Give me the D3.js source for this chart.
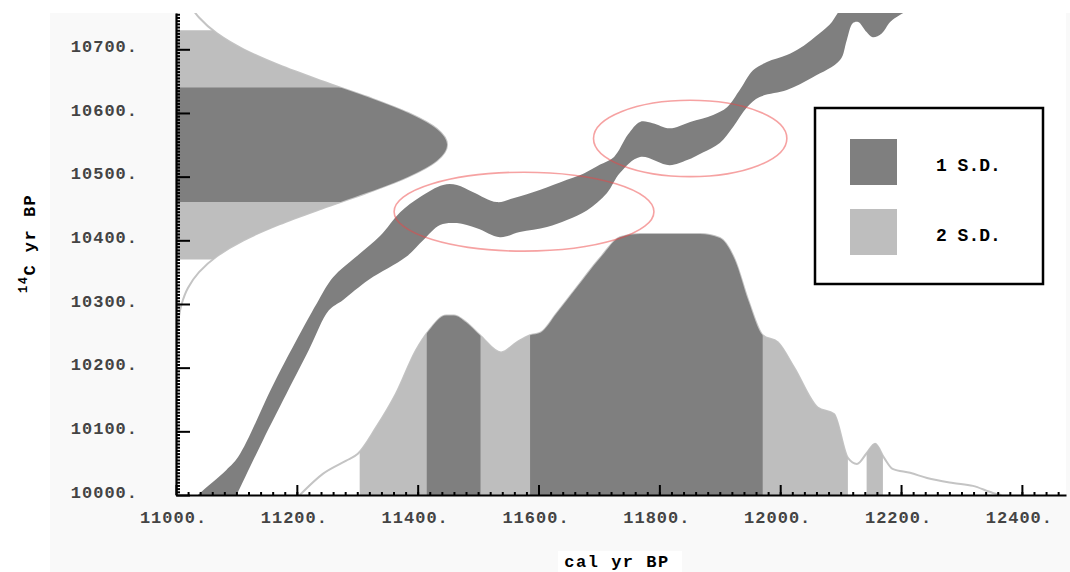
<!DOCTYPE html>
<html>
<head>
<meta charset="utf-8">
<script src="https://cdn.jsdelivr.net/npm/d3@7"></script>
<style>
body { margin: 0; background: #fff; }
text { font-family: "Liberation Mono", "Courier New", monospace; font-weight: bold; }
</style>
</head>
<body>
<div id="chart"></div>
<script>
//calibration curve band, upper edge (cal yr, 14C yr)
var upperCal = [11015, 11033, 11083, 11103, 11165, 11236, 11260, 11298, 11338, 11371, 11404, 11442, 11465, 11491, 11531, 11558, 11602, 11647, 11675, 11702, 11725, 11748, 11768, 11789, 11817, 11851, 11889, 11912, 11933, 11955, 11978, 12011, 12033, 12057, 12082, 12112];
var upperC14 = [9976, 9997, 10039, 10060, 10181, 10306, 10342, 10374, 10407, 10444, 10468, 10487, 10487, 10476, 10460, 10466, 10479, 10495, 10505, 10519, 10531, 10566, 10586, 10584, 10576, 10586, 10597, 10609, 10636, 10667, 10680, 10691, 10702, 10719, 10739, 10772];
//calibration curve band, lower edge
var lowerCal = [11089, 11099, 11144, 11220, 11253, 11276, 11319, 11381, 11409, 11437, 11465, 11498, 11536, 11569, 11614, 11647, 11680, 11713, 11735, 11768, 11817, 11846, 11872, 11900, 11922, 11945, 11966, 12011, 12054, 12099, 12110, 12120, 12129, 12143, 12153, 12168, 12182, 12198, 12231];
var lowerC14 = [9976, 9997, 10086, 10228, 10290, 10306, 10338, 10374, 10400, 10424, 10427, 10419, 10405, 10413, 10421, 10432, 10447, 10474, 10506, 10531, 10518, 10526, 10538, 10553, 10578, 10609, 10625, 10636, 10656, 10683, 10714, 10741, 10743, 10727, 10719, 10725, 10743, 10754, 10772];

//calibrated age probability (relative)
var probCal = [11205, 11243, 11281, 11301, 11331, 11364, 11397, 11419, 11447, 11460, 11480, 11503, 11538, 11564, 11586, 11604, 11630, 11660, 11702, 11735, 11768, 11818, 11867, 11900, 11925, 11947, 11971, 11996, 12023, 12062, 12089, 12112, 12127, 12143, 12157, 12172, 12186, 12215, 12243, 12286, 12319, 12352, 12366];
var probDens = [0, 0.081, 0.131, 0.158, 0.258, 0.388, 0.554, 0.631, 0.688, 0.688, 0.662, 0.612, 0.546, 0.585, 0.612, 0.623, 0.696, 0.785, 0.908, 0.988, 1, 1, 1, 0.985, 0.9, 0.746, 0.612, 0.585, 0.488, 0.335, 0.31, 0.142, 0.119, 0.16, 0.196, 0.142, 0.1, 0.085, 0.065, 0.046, 0.035, 0.008, 0];
var calOneSD = [[11415, 11504], [11586, 11971]];
var calTwoSD = [[11304, 12112], [12143, 12170]];

//radiocarbon measurement probability (relative)
var measC14 = [10225, 10250, 10275, 10300, 10325, 10350, 10375, 10400, 10425, 10450, 10475, 10500, 10525, 10550, 10575, 10600, 10625, 10650, 10675, 10700, 10725, 10750, 10775, 10800];
var measDens = [0.0015, 0.004, 0.009, 0.021, 0.044, 0.085, 0.151, 0.249, 0.381, 0.539, 0.707, 0.857, 0.962, 1, 0.962, 0.857, 0.707, 0.539, 0.381, 0.249, 0.151, 0.085, 0.044, 0.021];
var measOneSD = [10460, 10640];
var measTwoSD = [10370, 10730];

//highlighted wiggles: centre cal, centre 14C, half width (yr), half height (yr)
var wiggleCal = [11576, 11851];
var wiggleC14 = [10445, 10560];
var wiggleRx = [215, 160];
var wiggleRy = [62, 60];

var xTicks = [11000, 11200, 11400, 11600, 11800, 12000, 12200, 12400];
var yTicks = [10000, 10100, 10200, 10300, 10400, 10500, 10600, 10700];
var legendLabels = ["1 S.D.", "2 S.D."];

var width = 1070,
    height = 572;
var dark = "#7f7f7f", light = "#bebebe", outline = "#c4c4c4";

var svg = d3.select("#chart").append("svg")
    .attr("width", width)
    .attr("height", height);

//scales
var x = d3.scaleLinear().domain([11000, 12473]).range([176, 1066]);
var y = d3.scaleLinear().domain([10000, 10757]).range([495, 13]);
var pd = d3.scaleLinear().domain([0, 1]).range([y(10000), 234]);
var gd = d3.scaleLinear().domain([0, 1]).range([x(11000), 447]);

//grey frame and white plot area
svg.append("rect").attr("x", 50).attr("y", 13).attr("width", width - 50).attr("height", height - 13).attr("fill", "#f9f9f9");
svg.append("rect").attr("x", x(11000)).attr("y", 0).attr("width", x(12473) - x(11000)).attr("height", y(10000)).attr("fill", "#fff");

var defs = svg.append("defs");
defs.append("clipPath").attr("id", "plot")
  .append("rect")
    .attr("x", x(11000)).attr("y", y(10757))
    .attr("width", x(12473) - x(11000)).attr("height", y(10000) - y(10757));

function calClip(id, intervals) {
  defs.append("clipPath").attr("id", id)
    .selectAll("rect").data(intervals).enter().append("rect")
      .attr("x", function(d) { return x(d[0]); })
      .attr("width", function(d) { return x(d[1]) - x(d[0]); })
      .attr("y", 0).attr("height", height);
}
calClip("cal1", calOneSD);
calClip("cal2", calTwoSD);

function c14Clip(id, r) {
  defs.append("clipPath").attr("id", id)
    .append("rect")
      .attr("x", 0).attr("width", width)
      .attr("y", y(r[1])).attr("height", y(r[0]) - y(r[1]));
}
c14Clip("c141", measOneSD);
c14Clip("c142", measTwoSD);

var g = svg.append("g").attr("clip-path", "url(#plot)");

//calibrated distribution on the x axis
var probPts = probCal.map(function(c, i) { return [c, probDens[i]]; });
var probArea = d3.area()
    .x(function(d) { return x(d[0]); })
    .y0(y(10000))
    .y1(function(d) { return pd(d[1]); })
    .curve(d3.curveMonotoneX);
var probLine = d3.line()
    .x(function(d) { return x(d[0]); })
    .y(function(d) { return pd(d[1]); })
    .curve(d3.curveMonotoneX);

g.append("path").attr("d", probLine(probPts))
    .attr("fill", "none").attr("stroke", outline).attr("stroke-width", 2);
g.append("g").attr("clip-path", "url(#cal2)")
  .append("path").attr("d", probArea(probPts)).attr("fill", light);
g.append("g").attr("clip-path", "url(#cal1)")
  .append("path").attr("d", probArea(probPts)).attr("fill", dark);

//measured 14C distribution on the y axis
var measPts = measC14.map(function(c, i) { return [c, measDens[i]]; });
var measArea = d3.area()
    .y(function(d) { return y(d[0]); })
    .x0(x(11000))
    .x1(function(d) { return gd(d[1]); })
    .curve(d3.curveMonotoneY);
var measLine = d3.line()
    .y(function(d) { return y(d[0]); })
    .x(function(d) { return gd(d[1]); })
    .curve(d3.curveMonotoneY);

g.append("path").attr("d", measLine(measPts))
    .attr("fill", "none").attr("stroke", outline).attr("stroke-width", 2);
g.append("g").attr("clip-path", "url(#c142)")
  .append("path").attr("d", measArea(measPts)).attr("fill", light);
g.append("g").attr("clip-path", "url(#c141)")
  .append("path").attr("d", measArea(measPts)).attr("fill", dark);

//calibration curve band
var bandPts = upperCal.map(function(c, i) { return [c, upperC14[i]]; })
    .concat(lowerCal.map(function(c, i) { return [c, lowerC14[i]]; }).reverse());
var band = d3.line()
    .x(function(d) { return x(d[0]); })
    .y(function(d) { return y(d[1]); })
    .curve(d3.curveCatmullRomClosed.alpha(0.5));
g.append("path").attr("d", band(bandPts)).attr("fill", dark);

//red ellipses round the wiggles
g.selectAll(".wiggle")
    .data(wiggleCal).enter().append("ellipse")
    .attr("class", "wiggle")
    .attr("cx", function(d) { return x(d); })
    .attr("cy", function(d, i) { return y(wiggleC14[i]); })
    .attr("rx", function(d, i) { return x(d + wiggleRx[i]) - x(d); })
    .attr("ry", function(d, i) { return y(wiggleC14[i] - wiggleRy[i]) - y(wiggleC14[i]); })
    .attr("fill", "none")
    .attr("stroke", "rgb(238,70,70)")
    .attr("stroke-opacity", 0.5)
    .attr("stroke-width", 1.6);

//axes, ticks point into the plot
var yAxis = svg.append("g")
    .attr("transform", "translate(" + x(11000) + ",0)")
    .call(d3.axisLeft(y).tickValues(yTicks).tickSizeInner(-14).tickSizeOuter(0).tickPadding(38)
      .tickFormat(function(d) { return d + "."; }));
svg.append("g")
    .attr("transform", "translate(" + x(11000) + ",0)")
    .call(d3.axisLeft(y).tickValues(d3.range(10005, 10757, 5)).tickSize(-4).tickFormat(""))
    .call(function(a) { a.select(".domain").remove(); });

var xAxis = svg.append("g")
    .attr("transform", "translate(0," + y(10000) + ")")
    .call(d3.axisBottom(x).tickValues(xTicks).tickSizeInner(-10).tickSizeOuter(0).tickPadding(16)
      .tickFormat(function(d) { return d + "."; }));
svg.append("g")
    .attr("transform", "translate(0," + y(10000) + ")")
    .call(d3.axisBottom(x).tickValues(d3.range(11020, 12473, 20)).tickSize(-3).tickFormat(""))
    .call(function(a) { a.select(".domain").remove(); });

svg.selectAll(".domain").attr("stroke", "#000").attr("stroke-width", 2.2);
svg.selectAll(".tick line").attr("stroke", "#000").attr("stroke-width", 2);
[yAxis, xAxis].forEach(function(a) {
  a.attr("font-size", 17);
  a.selectAll("text").attr("fill", "#444").style("letter-spacing", "1px");
});
yAxis.selectAll("text").attr("dy", "0.12em");
xAxis.selectAll("text").attr("dx", -3);

//axis titles
svg.append("rect").attr("x", 558).attr("y", 551).attr("width", 124).attr("height", 21).attr("fill", "#fff");
svg.append("text")
    .attr("x", 617).attr("y", 567)
    .attr("text-anchor", "middle")
    .attr("font-size", 17)
    .style("letter-spacing", "1.5px")
    .text("cal yr BP");

var yTitle = svg.append("text")
    .attr("transform", "translate(35,293) rotate(-90)")
    .attr("font-size", 17)
    .style("letter-spacing", "1.5px");
yTitle.append("tspan").attr("font-size", 12).attr("dy", -8).text("14");
yTitle.append("tspan").attr("dy", 8).text("C yr BP");

//legend
var legend = svg.append("g");
legend.append("rect")
    .attr("x", 815).attr("y", 108).attr("width", 228).attr("height", 176)
    .attr("fill", "#fff").attr("stroke", "#000").attr("stroke-width", 2.5);
var item = legend.selectAll(".item")
    .data(legendLabels).enter().append("g")
    .attr("class", "item")
    .attr("transform", function(d, i) { return "translate(850," + (139 + i * 70) + ")"; });
item.append("rect")
    .attr("width", 47).attr("height", 46)
    .attr("fill", function(d, i) { return i == 0 ? dark : light; });
item.append("text")
    .attr("x", 86).attr("y", 32)
    .attr("font-size", 18)
    .text(function(d) { return d; });
</script>
</body>
</html>
